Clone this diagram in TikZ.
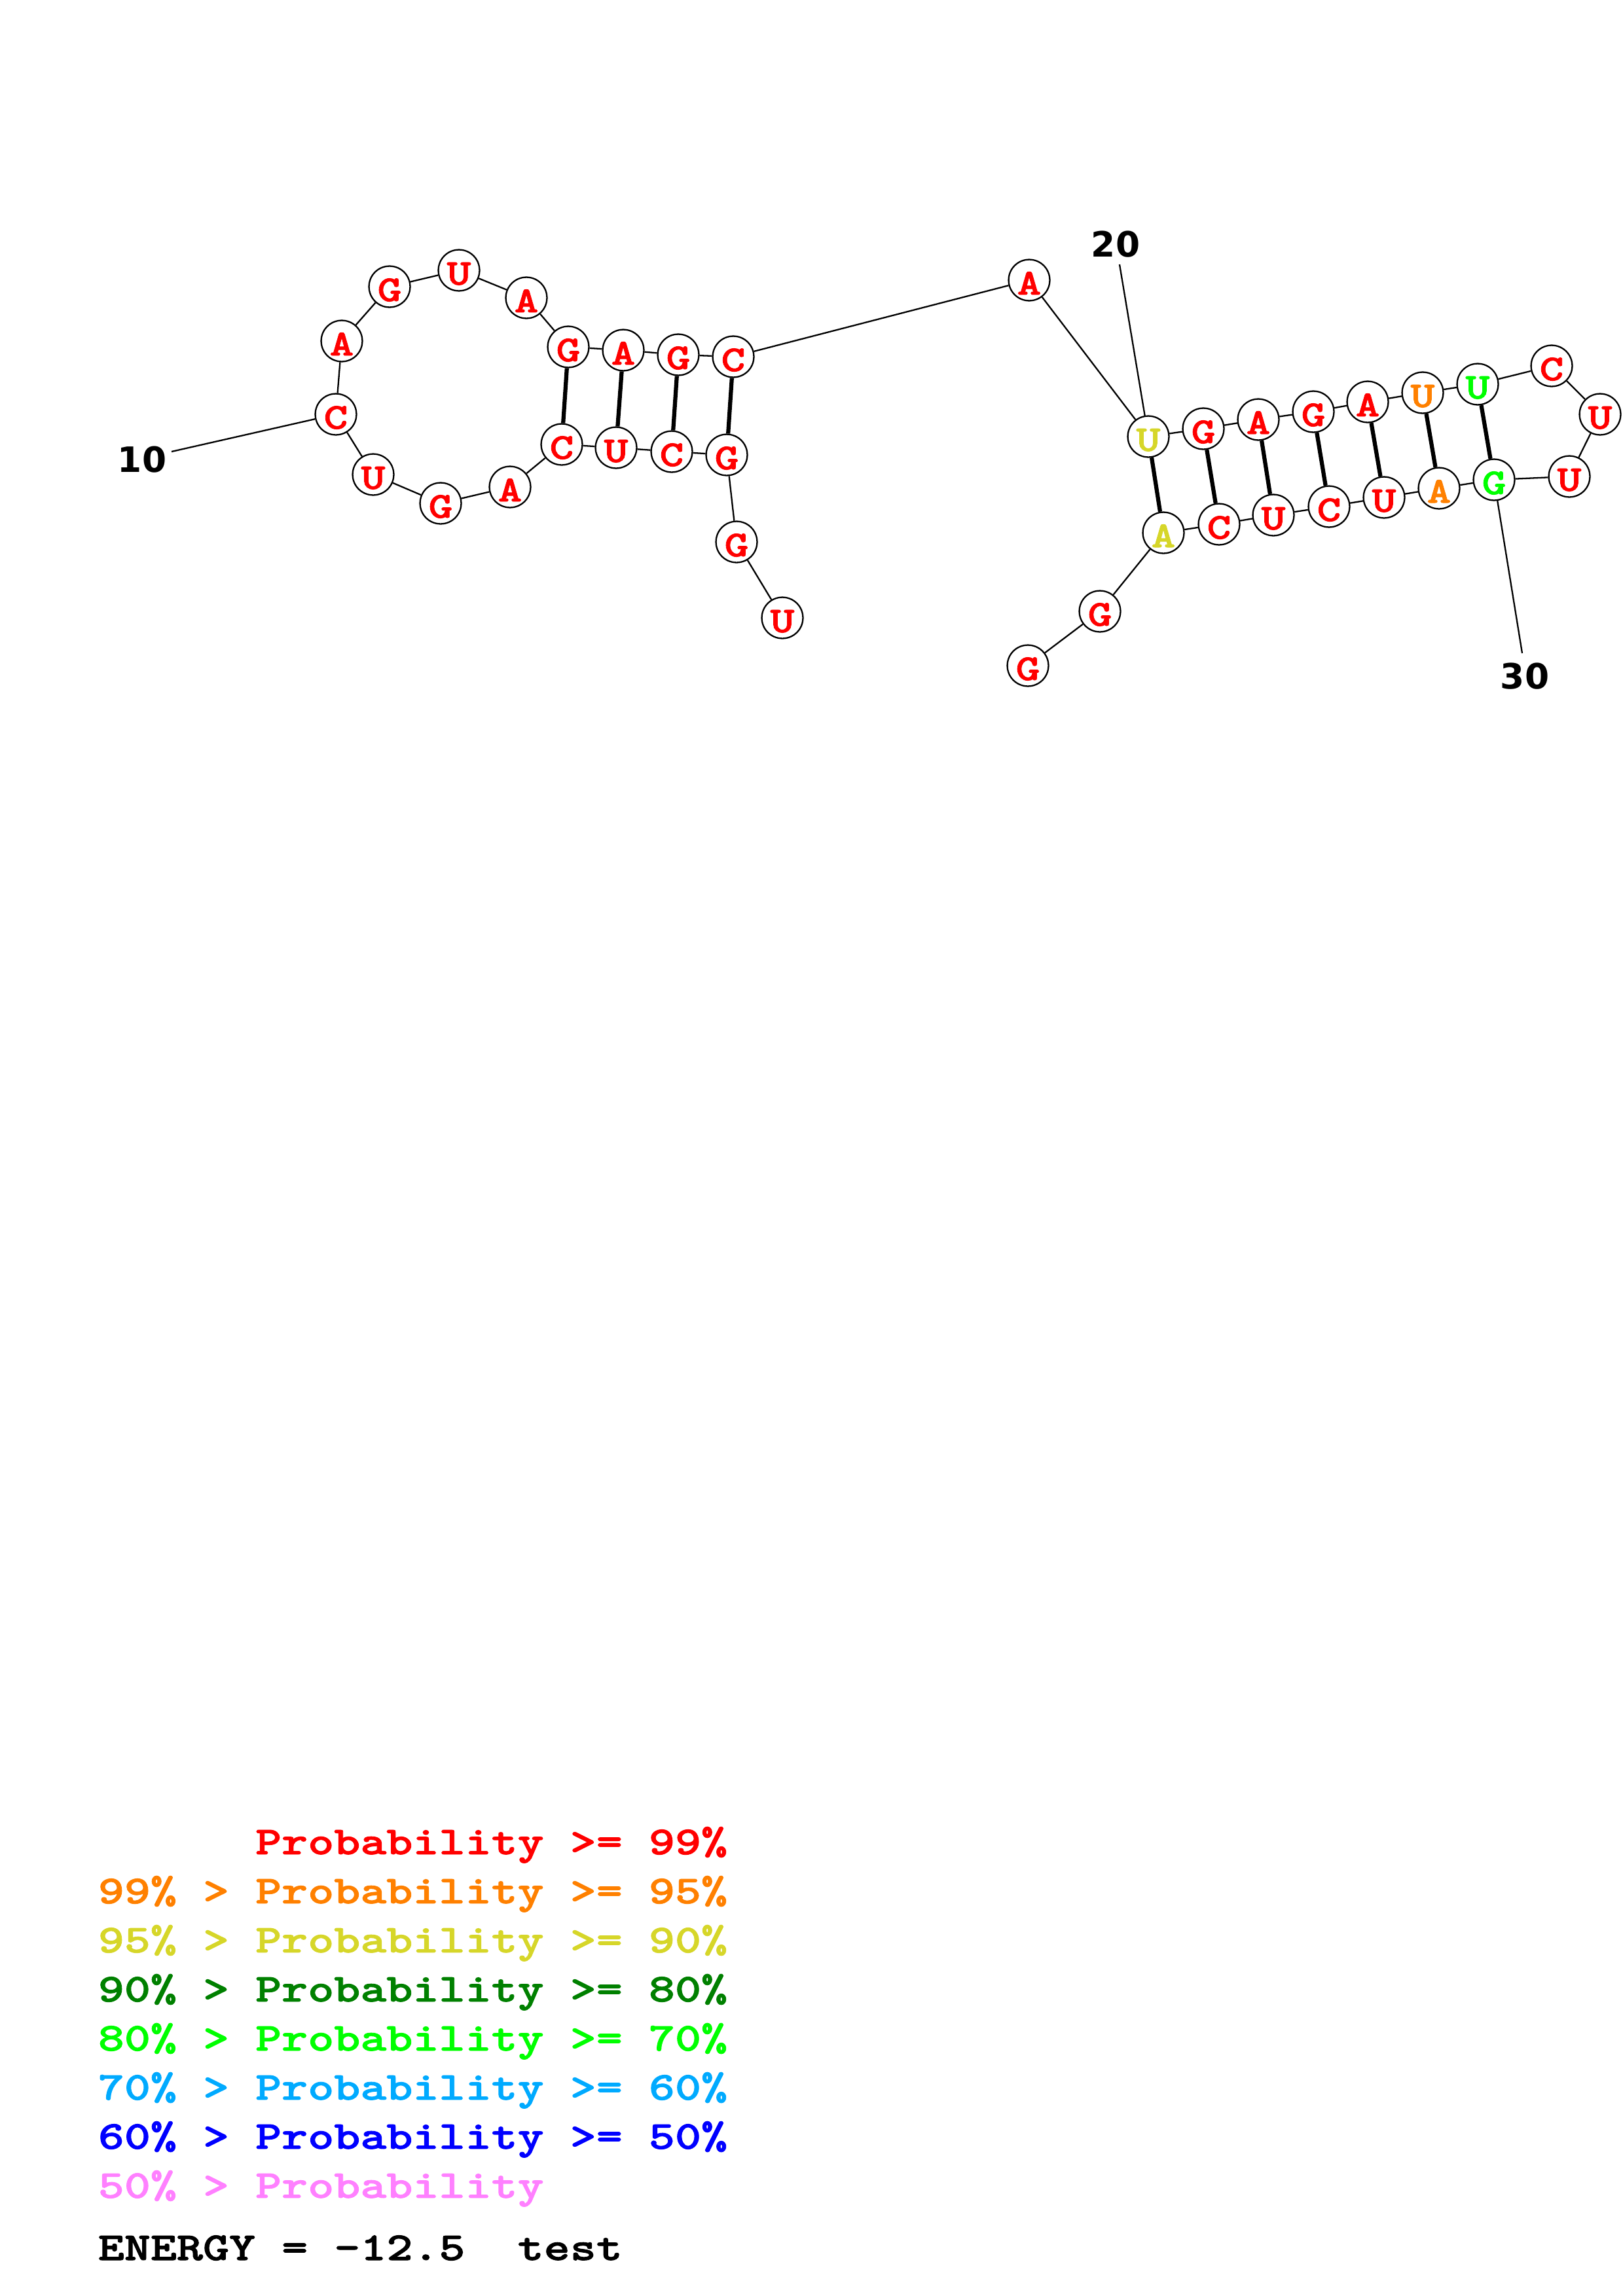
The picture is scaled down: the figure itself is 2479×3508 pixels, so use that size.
\documentclass[tikz,border=0pt]{standalone}
\usepackage{fontspec}
\usepackage{tikz}
\newfontfamily\ntfont[Extension=.otf, FakeStretch=1.26, FakeBold=1.5]{lmmonolt10-bold}
\newfontfamily\numfont{DejaVu Sans}
\definecolor{pr99}{RGB}{255,0,0}
\definecolor{pr95}{RGB}{255,128,0}
\definecolor{pr90}{RGB}{214,214,41}
\definecolor{pr80}{RGB}{0,128,0}
\definecolor{pr70}{RGB}{0,255,0}
\definecolor{pr60}{RGB}{0,170,255}
\definecolor{pr50}{RGB}{0,0,255}
\definecolor{pr00}{RGB}{255,128,255}
\tikzset{
  nt/.style       = {circle, draw, fill=white, line width=0.55bp, inner sep=0pt,
                     minimum size=15.1bp, text height=10.6bp, text depth=0pt,
                     font=\ntfont\fontsize{13.4bp}{16bp}\selectfont},
  bb/.style       = {line width=0.55bp},
  pairline/.style = {line width=1.5bp},
  numlbl/.style   = {font=\numfont\bfseries\fontsize{12.8bp}{15bp}\selectfont,
                     inner sep=0pt, text depth=0pt},
  legend/.style   = {anchor=base west, inner sep=0pt,
                     font=\ntfont\fontsize{14.54bp}{18bp}\selectfont},
}
\begin{document}
\begin{tikzpicture}[x=0.24014bp, y=-0.24014bp]
  \useasboundingbox (0,0) rectangle (2479,3508);
  % nucleotides
  \foreach \i/\b/\x/\y/\c in {
      1/U/1195/944/pr99,  2/G/1125/828/pr99,  3/G/1110/695/pr99,
      4/C/1026/690/pr99,  5/U/941/684/pr99,   6/C/858/679/pr99,
      7/A/779/744/pr99,   8/G/673/769/pr99,   9/U/570/725/pr99,
      10/C/513/633/pr99,  11/A/522/521/pr99,  12/G/595/438/pr99,
      13/U/701/413/pr99,  14/A/804/455/pr99,  15/G/868/530/pr99,
      16/A/952/535/pr99,  17/G/1036/542/pr99, 18/C/1120/545/pr99,
      19/A/1572/428/pr99, 20/U/1754/667/pr90, 21/G/1838/655/pr99,
      22/A/1922/641/pr99, 23/G/2006/629/pr99, 24/A/2089/614/pr99,
      25/U/2173/600/pr95, 26/U/2257/587/pr70, 27/C/2370/559/pr99,
      28/U/2444/633/pr99, 29/U/2397/728/pr99, 30/G/2282/733/pr70,
      31/A/2198/746/pr95, 32/U/2114/760/pr99, 33/C/2030/774/pr99,
      34/U/1945/787/pr99, 35/C/1862/801/pr99, 36/A/1777/814/pr90,
      37/G/1680/934/pr99, 38/G/1570/1017/pr99}
    \node[nt, text=\c] (n\i) at (\x,\y) {\b};
  % backbone
  \foreach \i [count=\j from 2] in {1,...,37}
    \draw[bb] (n\i) -- (n\j);
  % base pairs
  \foreach \a/\b in {3/18, 4/17, 5/16, 6/15, 20/36, 21/35, 22/34,
                     23/33, 24/32, 25/31, 26/30}
    \draw[pairline] (n\a) -- (n\b);
  % position ticks
  \coordinate (t10) at (262,690);
  \coordinate (t20) at (1710,404);
  \coordinate (t30) at (2325,998);
  \draw[bb] (t10) -- (n10);
  \draw[bb] (t20) -- (n20);
  \draw[bb] (t30) -- (n30);
  \node[numlbl] (l10) at (217,702) {10};
  \node[numlbl] (l20) at (1704,373) {20};
  \node[numlbl] (l30) at (2329,1033) {30};
  % legend
  \node[legend, text=pr99] (leg99) at (149,2833) {\hphantom{99\%\ >\ }Probability >= 99\%};
  \node[legend, text=pr95] (leg95) at (149,2908) {99\% > Probability >= 95\%};
  \node[legend, text=pr90] (leg90) at (149,2983) {95\% > Probability >= 90\%};
  \node[legend, text=pr80] (leg80) at (149,3058) {90\% > Probability >= 80\%};
  \node[legend, text=pr70] (leg70) at (149,3133) {80\% > Probability >= 70\%};
  \node[legend, text=pr60] (leg60) at (149,3208) {70\% > Probability >= 60\%};
  \node[legend, text=pr50] (leg50) at (149,3283) {60\% > Probability >= 50\%};
  \node[legend, text=pr00] (leg00) at (149,3358) {50\% > Probability};
  \node[legend] (energy) at (149,3453) {ENERGY = -12.5\ \ test};
\end{tikzpicture}
\end{document}
